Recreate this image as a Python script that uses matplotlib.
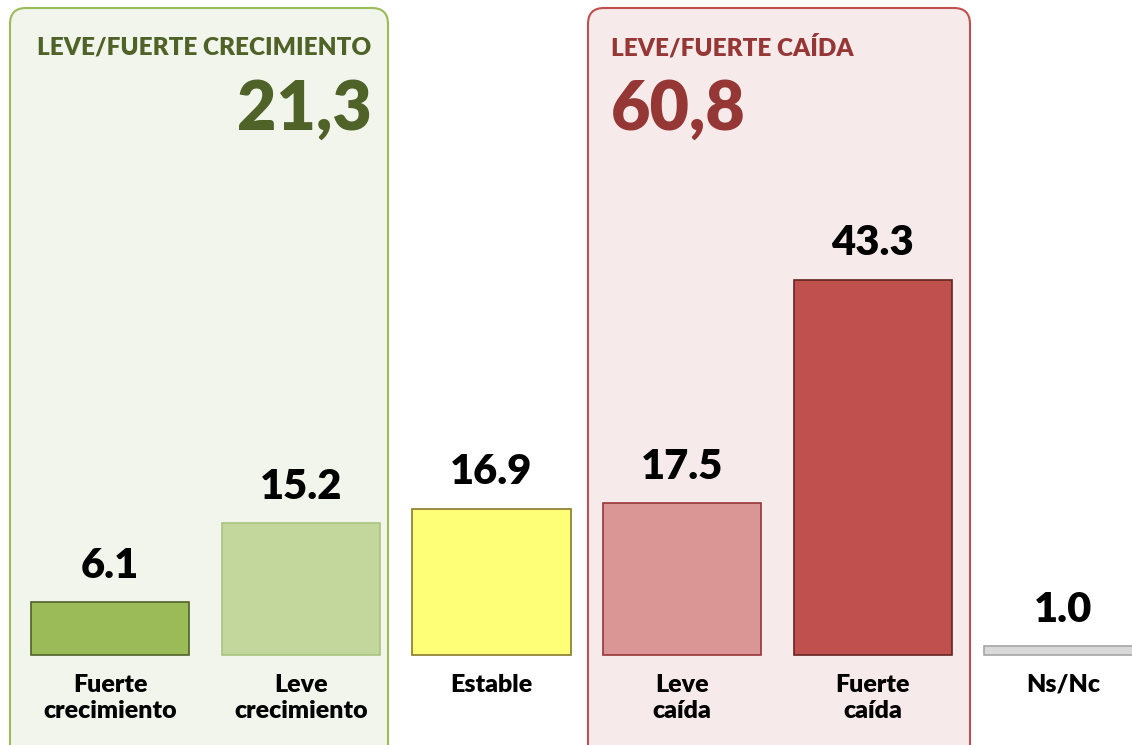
import matplotlib
matplotlib.use("Agg")
import matplotlib.pyplot as plt
from matplotlib.patches import FancyBboxPatch
from matplotlib.transforms import IdentityTransform

categorias = ["Fuerte\ncrecimiento", "Leve\ncrecimiento", "Estable", "Leve\ncaída", "Fuerte\ncaída", "Ns/Nc"]
valores = [6.1, 15.2, 16.9, 17.5, 43.3, 1.0]
colores = ["#9BBB59", "#C3D69B", "#FFFF77", "#DA9694", "#C0504D", "#D9D9D9"]
bordes = ["#4F6228", "#A9C47F", "#8A7A2A", "#953735", "#632523", "#A6A6A6"]

titulo_crec = "LEVE/FUERTE CRECIMIENTO"
total_crec = "21,3"
titulo_caida = "LEVE/FUERTE CAÍDA"
total_caida = "60,8"

plt.rcParams['font.family'] = ['Lato', 'DejaVu Sans']

fig = plt.figure(figsize=(11.32, 7.45), dpi=100)

# cajas de fondo (en pixeles)
caja1 = FancyBboxPatch((10, -20), 378, 757, boxstyle="round,pad=0,rounding_size=16",
                       transform=IdentityTransform(), facecolor="#F2F5EC", edgecolor="#9BBB59",
                       linewidth=1.5, zorder=-5)
caja2 = FancyBboxPatch((588, -20), 382, 757, boxstyle="round,pad=0,rounding_size=16",
                       transform=IdentityTransform(), facecolor="#F6EAEA", edgecolor="#C0504D",
                       linewidth=1.5, zorder=-5)
fig.patches.append(caja1)
fig.patches.append(caja2)

ax = fig.add_axes([0, 0, 1, 1])
ax.set_zorder(2)
ax.patch.set_alpha(0)
ax.set_xlim(-0.577, 5.359)
ax.set_ylim(-10.4, 75.6)
ax.axis("off")

x = range(len(valores))
ax.bar(x, valores, width=0.83, color=colores, edgecolor=bordes, linewidth=1.2, zorder=2)

for i, v in enumerate(valores):
    ax.text(i, v + 2.0, f"{v:.1f}", ha="center", va="bottom", fontsize=30,
            fontweight="heavy", color="black")
    ax.text(i, -2.2, categorias[i], ha="center", va="top", fontsize=18,
            fontweight="heavy", color="black", linespacing=1.25)

fig.text(37 / 1132, 1 - 47 / 745, titulo_crec, ha="left", va="center", fontsize=17.5,
         fontweight="heavy", color="#4F6228")
fig.text(372 / 1132, 1 - 110 / 745, total_crec, ha="right", va="center", fontsize=49,
         fontweight="heavy", color="#4F6228")
fig.text(611 / 1132, 1 - 47 / 745, titulo_caida, ha="left", va="center", fontsize=17.5,
         fontweight="heavy", color="#953735")
fig.text(611 / 1132, 1 - 110 / 745, total_caida, ha="left", va="center", fontsize=49,
         fontweight="heavy", color="#953735")

fig.savefig("out.png", dpi=100)
